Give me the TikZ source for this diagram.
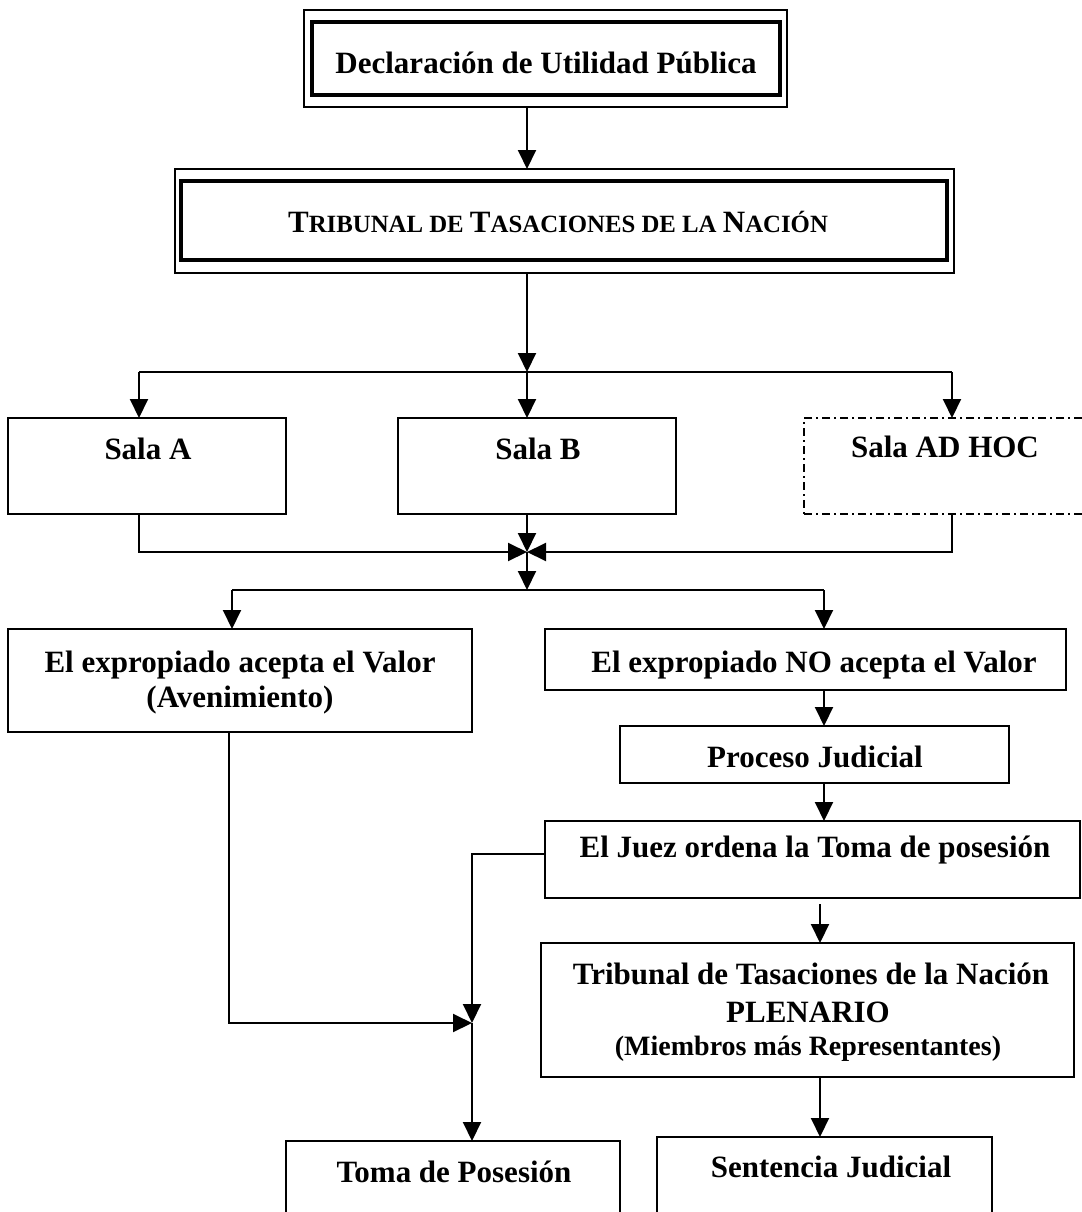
\documentclass[tikz,border=0pt]{standalone}
\usepackage{fontspec}
\setmainfont{Liberation Serif}
\usetikzlibrary{arrows.meta}
\newcommand\bigC[1]{{\fontsize{31}{35}\selectfont #1}}
\newcommand\smC[1]{{\fontsize{24.8}{35}\selectfont #1}}
\begin{document}
\begin{tikzpicture}[x=1pt,y=-1pt,
  box/.style={draw=black, line width=2pt, rectangle, inner sep=0pt, outer sep=0pt},
  thinbox/.style={draw=black, line width=1.5pt, rectangle, inner sep=0pt, outer sep=0pt},
  thickbox/.style={draw=black, line width=3.5pt, rectangle, inner sep=0pt, outer sep=0pt},
  dashbox/.style={draw=black, line width=2pt, rectangle, inner sep=0pt, outer sep=0pt, dash pattern=on 8pt off 4pt on 2pt off 4pt},
  txt/.style={font=\bfseries\fontsize{31}{35}\selectfont, anchor=base, inner sep=0pt},
  txts/.style={font=\bfseries\fontsize{28}{32}\selectfont, anchor=base, inner sep=0pt},
  ln/.style={line width=2pt, draw=black},
  arr/.style={line width=2pt, draw=black, -{Triangle[length=19pt,width=18pt]}}
]
\useasboundingbox (0,0) rectangle (1081,1212);
\fill[white] (0,0) rectangle (1081,1212);

% boxes
\node[thinbox, minimum width=483pt, minimum height=97pt] (declo) at (545.5,58.5) {};
\node[thickbox, minimum width=468pt, minimum height=73pt] (decli) at (546,58.5) {};
\node[txt] (declt) at (546,74) {Declaración de Utilidad Pública};

\node[thinbox, minimum width=779pt, minimum height=104pt] (tribo) at (564.5,221) {};
\node[thickbox, minimum width=766pt, minimum height=79pt] (tribi) at (564,220.5) {};
\node[anchor=base, inner sep=0pt, font=\bfseries] (tribt) at (558,232) {\bigC{T}\smC{RIBUNAL DE }\bigC{T}\smC{ASACIONES DE LA }\bigC{N}\smC{ACIÓN}};

\node[box, minimum width=278pt, minimum height=96pt] (salaA) at (147,466) {};
\node[txt] (salaAt) at (148,459) {Sala A};
\node[box, minimum width=278pt, minimum height=96pt] (salaB) at (537,466) {};
\node[txt] (salaBt) at (538,459) {Sala B};
\node[dashbox, minimum width=280pt, minimum height=96pt] (salaH) at (944,466) {};
\node[txt] (salaHt) at (945,457) {Sala AD HOC};

\node[box, minimum width=464pt, minimum height=103pt] (acepta) at (240,680.5) {};
\node[txt] (acepta1) at (240,672) {El expropiado acepta el Valor};
\node[txt] (acepta2) at (240,707) {(Avenimiento)};

\node[box, minimum width=521pt, minimum height=61pt] (noacepta) at (805.5,659.5) {};
\node[txt] (noaceptat) at (814,672) {El expropiado NO acepta el Valor};

\node[box, minimum width=389pt, minimum height=57pt] (proceso) at (814.5,754.5) {};
\node[txt] (procesot) at (815,767) {Proceso Judicial};

\node[box, minimum width=535pt, minimum height=77pt] (juez) at (812.5,859.5) {};
\node[txt] (juezt) at (815,857) {El Juez ordena la Toma de posesión};

\node[box, minimum width=533pt, minimum height=134pt] (plen) at (807.5,1010) {};
\node[txt] (plen1) at (811,984) {Tribunal de Tasaciones de la Nación};
\node[txt] (plen2) at (808,1022) {PLENARIO};
\node[txts] (plen3) at (808,1055) {(Miembros más Representantes)};

\node[box, minimum width=334pt, minimum height=80pt] (toma) at (453,1181) {};
\node[txt] (tomat) at (454,1182) {Toma de Posesión};
\node[box, minimum width=335pt, minimum height=84pt] (sent) at (824.5,1179) {};
\node[txt] (sentt) at (831,1177) {Sentencia Judicial};

% junction coordinates
\coordinate (c1) at (527,372);
\coordinate (h1L) at (139,372);
\coordinate (h1R) at (952,372);
\coordinate (c2) at (527,552);
\coordinate (m1L) at (139,552);
\coordinate (m1R) at (952,552);
\coordinate (c3) at (527,590);
\coordinate (h2L) at (232,590);
\coordinate (h2R) at (824,590);
\coordinate (jz) at (472,854);
\coordinate (c4) at (472,1023);
\coordinate (aL) at (229,1023);
\coordinate (x820) at (820,904);

% connectors
\draw[arr] (declo.south -| c1) -- (tribo.north -| c1);
\draw[arr] (tribo.south -| c1) -- (c1);
\draw[ln] (h1L) -- (h1R);
\draw[arr] (h1L) -- (salaA.north -| h1L);
\draw[arr] (c1) -- (salaB.north -| c1);
\draw[arr] (h1R) -- (salaH.north -| h1R);

\draw[arr] (salaA.south -| m1L) -- (m1L) -- (c2);
\draw[arr] (salaH.south -| m1R) -- (m1R) -- (c2);
\draw[arr] (salaB.south -| c2) -- (c2);
\draw[arr] (c2) -- (c3);
\draw[ln] (h2L) -- (h2R);
\draw[arr] (h2L) -- (acepta.north -| h2L);
\draw[arr] (h2R) -- (noacepta.north -| h2R);

\draw[arr] (noacepta.south -| h2R) -- (proceso.north -| h2R);
\draw[arr] (proceso.south -| h2R) -- (juez.north -| h2R);
\draw[arr] (x820) -- (plen.north -| x820);
\draw[arr] (plen.south -| x820) -- (sent.north -| x820);

\draw[arr] (juez.west |- jz) -- (jz) -- (c4);
\draw[arr] (acepta.south -| aL) -- (aL) -- (c4);
\draw[arr] (c4) -- (toma.north -| c4);
\end{tikzpicture}
\end{document}
